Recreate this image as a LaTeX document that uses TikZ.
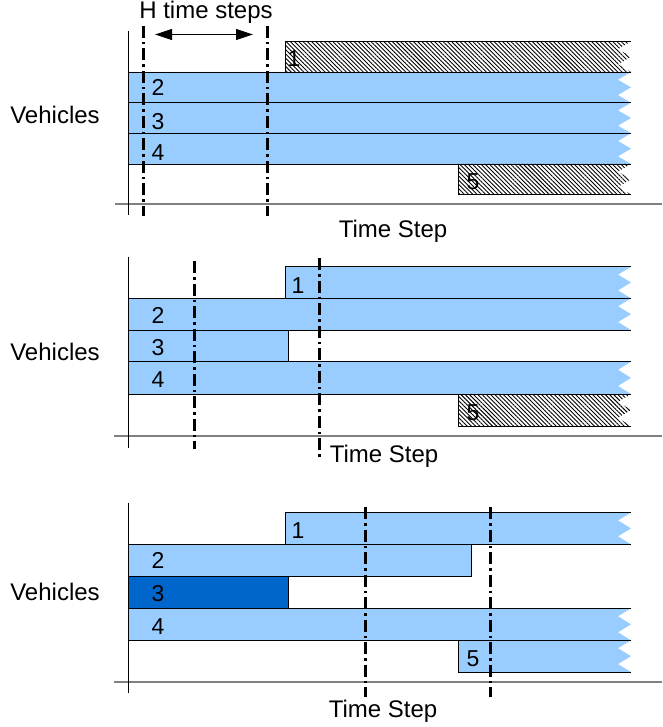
\documentclass[tikz,border=0pt]{standalone}
\usepackage{fontspec}
\setmainfont{Liberation Sans}
\usetikzlibrary{patterns.meta,arrows.meta}
\definecolor{lb}{HTML}{99CCFF}
\definecolor{db}{HTML}{0066CC}
\definecolor{axgray}{HTML}{808080}
\tikzset{
  barline/.style={draw=black,line width=0.9pt},
  lbfill/.style={fill=lb},
  dbfill/.style={fill=db},
  hatch/.style={pattern={Lines[angle=-45,distance=3pt,line width=0.9pt]}},
  xaxis/.style={draw=axgray,line width=2pt},
  yaxis/.style={draw=black,line width=1pt},
  dashdotline/.style={draw=black,line width=3pt,dash pattern=on 12pt off 4pt on 2.5pt off 4pt},
  word/.style={font=\fontsize{24}{28}\selectfont,anchor=base,inner sep=0pt},
  digit/.style={font=\fontsize{23}{27}\selectfont,anchor=base,inner sep=0pt},
}
\newcommand\myzbar[4]{%
  \pgfmathsetmacro\qa{#2+(#3-#2)/4}%
  \pgfmathsetmacro\qb{#2+(#3-#2)/2}%
  \pgfmathsetmacro\qc{#2+3*(#3-#2)/4}%
  \fill[#4] (#1,#2) -- (631,#2) -- (618,\qa) -- (631,\qb) -- (618,\qc) -- (631,#3) -- (#1,#3) -- cycle;
  \draw[barline] (631,#2) -- (#1,#2) -- (#1,#3) -- (631,#3);
}
\newcommand\myfbar[5]{%
  \filldraw[#5,barline] (#1,#3) rectangle (#2,#4);
}
\begin{document}
\begin{tikzpicture}[x=1pt,y=-1pt]
\useasboundingbox (0,0) rectangle (662,727);
% ---------------- Panel 1 ----------------
\myzbar{285}{41.5}{72}{hatch}
\myzbar{128.5}{72}{102.7}{lbfill}
\myzbar{128.5}{102.7}{133.3}{lbfill}
\myzbar{128.5}{133.3}{164}{lbfill}
\myzbar{458.5}{164}{194.5}{hatch}
\draw[xaxis] (115,204) -- (662,204);
\draw[yaxis] (128.5,31.5) -- (128.5,215);
\coordinate (h1t) at (143,26); \coordinate (h1b) at (143,216);
\coordinate (h2t) at (267,26); \coordinate (h2b) at (267,216);
\draw[dashdotline] (h1t) -- (h1b);
\draw[dashdotline] (h2t) -- (h2b);
\coordinate (arL) at (155,34.5); \coordinate (arR) at (253,34.5);
\draw[line width=1pt,{Triangle[length=17pt,width=11pt]}-{Triangle[length=17pt,width=11pt]}] (arL) -- (arR);
\node[word] (htext) at (206,18.5) {H time steps};
\node[word] (veh1) at (55,124) {Vehicles};
\node[word] (ts1) at (393,237.5) {Time Step};
\node[digit] (p1n1) at (294,66.5) {1};
\node[digit] (p1n2) at (158,96) {2};
\node[digit] (p1n3) at (158,130) {3};
\node[digit] (p1n4) at (158,161) {4};
\node[digit] (p1n5) at (473,190) {5};
% ---------------- Panel 2 ----------------
\myzbar{285}{266.7}{298.3}{lbfill}
\myzbar{128.5}{298.3}{330}{lbfill}
\myfbar{128.5}{288.3}{330}{361.7}{lbfill}
\myzbar{128.5}{361.7}{394}{lbfill}
\myzbar{458.5}{394}{426}{hatch}
\draw[xaxis] (114,436) -- (662,436);
\draw[yaxis] (128.5,256.5) -- (128.5,448);
\coordinate (d1t) at (194.3,261); \coordinate (d1b) at (194.3,449);
\coordinate (d2t) at (319.5,258); \coordinate (d2b) at (319.5,457);
\draw[dashdotline] (d1t) -- (d1b);
\draw[dashdotline] (d2t) -- (d2b);
\node[word] (veh2) at (55,360) {Vehicles};
\node[word] (ts2) at (384,462.5) {Time Step};
\node[digit] (p2n1) at (298,293) {1};
\node[digit] (p2n2) at (158,323.5) {2};
\node[digit] (p2n3) at (158,355.5) {3};
\node[digit] (p2n4) at (158,387.5) {4};
\node[digit] (p2n5) at (473,420) {5};
% ---------------- Panel 3 ----------------
\myzbar{285}{512.5}{544.3}{lbfill}
\myfbar{128.5}{471.7}{544.3}{576.7}{lbfill}
\myfbar{128.5}{288.3}{576.7}{608.3}{dbfill}
\myzbar{128.5}{608.3}{640.3}{lbfill}
\myzbar{458.5}{640.3}{672}{lbfill}
\draw[xaxis] (114,682) -- (662,682);
\draw[yaxis] (128.5,502.5) -- (128.5,693);
\coordinate (e1t) at (365.5,507); \coordinate (e1b) at (365.5,697);
\coordinate (e2t) at (490.3,507); \coordinate (e2b) at (490.3,697);
\draw[dashdotline] (e1t) -- (e1b);
\draw[dashdotline] (e2t) -- (e2b);
\node[word] (veh3) at (55,600) {Vehicles};
\node[word] (ts3) at (383,717) {Time Step};
\node[digit] (p3n1) at (298,538.3) {1};
\node[digit] (p3n2) at (158,568.3) {2};
\node[digit] (p3n3) at (158,601.7) {3};
\node[digit] (p3n4) at (158,634) {4};
\node[digit] (p3n5) at (473,666) {5};
\end{tikzpicture}
\end{document}
